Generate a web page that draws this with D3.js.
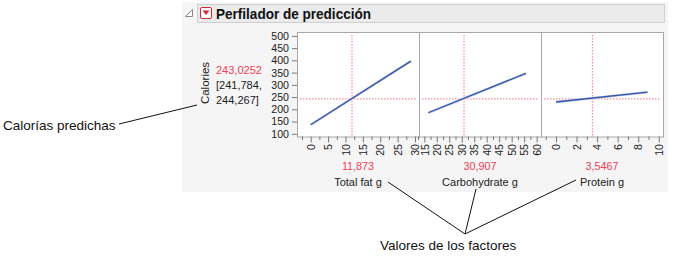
<!DOCTYPE html>
<html><head><meta charset="utf-8">
<script src="https://cdn.jsdelivr.net/npm/d3@7"></script>
<style>body{margin:0;background:#fff}svg{display:block;font-family:"Liberation Sans",Arial,sans-serif}</style>
</head><body><svg id="c" width="675" height="260"></svg>
<script>
const title = "Perfilador de predicción";
const responseName = "Calories";
const predicted = "243,0252";
const predictedValue = 243.0252;
const ciLabels = ["[241,784,", "244,267]"];
const factors = ["Total fat g", "Carbohydrate g", "Protein g"];
const factorLabels = ["11,873", "30,907", "3,5467"];
const factorCurrent = [11.873, 30.907, 3.5467];
const xDomains = [[-3.94, 31.15], [12.88, 61.74], [-1.46, 10.41]];
const xTicks = [[0,5,10,15,20,25,30],[15,20,25,30,35,40,45,50,55,60],[0,2,4,6,8,10]];
const xMinor = [[-2.5,2.5,7.5,12.5,17.5,22.5,27.5],[12.5,17.5,22.5,27.5,32.5,37.5,42.5,47.5,52.5,57.5],[-1,1,3,5,7,9]];
const profileX = [[0, 28.8], [16.6, 55.7], [0, 8.9]];
const profileY = [[137, 397], [186, 347], [230, 270]];
const yDomain = [89, 516];
const yTicks = [100,150,200,250,300,350,400,450,500];
const annoLeft = "Calorías predichas";
const annoBottom = "Valores de los factores";

const svg = d3.select("#c");
const red = "#ee4058", dash = "#f58f9c", blue = "#3553a6";

// panel background
svg.append("rect").attr("x",182).attr("y",2).attr("width",486).attr("height",190).attr("fill","#f5f5f5");
// header
svg.append("rect").attr("x",197.5).attr("y",4.5).attr("width",467).attr("height",18).attr("fill","#ebebeb").attr("stroke","#cfcfcf");
svg.append("path").attr("d","M192.5,9.5 L192.5,16.5 L185.5,16.5 Z").attr("fill","#fff").attr("stroke","#8a8a8a");
svg.append("rect").attr("x",200.5).attr("y",7.5).attr("width",11).attr("height",11).attr("rx",1.5).attr("fill","#fff").attr("stroke","#d8262e");
svg.append("path").attr("d","M202.5,10.5 L209.5,10.5 L206,15 Z").attr("fill","#d8262e");
svg.append("text").attr("x",216).attr("y",18.5).attr("font-size",14).attr("font-weight","bold").attr("fill","#111")
  .attr("textLength",155).attr("lengthAdjust","spacingAndGlyphs").text(title);

// scales
const band = d3.scaleBand().domain(factors).range([297, 663]).padding(0);
const y = d3.scaleLinear().domain(yDomain).range([136.5, 32]);
const plotTop = 32, plotBottom = 136.5;

// y axis
const ya = svg.append("g").attr("transform","translate(297,0)")
  .call(d3.axisLeft(y).tickValues(yTicks).tickSize(5).tickPadding(3));
ya.select(".domain").remove();
ya.selectAll("line").attr("stroke","#777");
ya.selectAll("text").attr("font-size",10.6).attr("fill","#222").attr("font-family","Liberation Sans, Arial");

// response label
svg.append("text").attr("transform","translate(208.5,83) rotate(-90)").attr("text-anchor","middle")
  .attr("font-size",11.5).attr("fill","#222").text(responseName);
svg.append("text").attr("x",216).attr("y",74).attr("font-size",11).attr("fill",red).text(predicted);
ciLabels.forEach((t,i)=>svg.append("text").attr("x",216).attr("y",89+15*i).attr("font-size",11).attr("fill","#222").text(t));

factors.forEach((f,i)=>{
  const x0 = band(f), w = band.bandwidth();
  const x = d3.scaleLinear().domain(xDomains[i]).range([x0, x0+w]);
  const g = svg.append("g");
  g.append("rect").attr("x",x0+0.5).attr("y",plotTop+0.5).attr("width",w).attr("height",plotBottom-plotTop).attr("fill","#fff").attr("stroke","#a8a8a8");
  // dashed reference lines
  g.append("line").attr("x1",x(factorCurrent[i])).attr("x2",x(factorCurrent[i])).attr("y1",plotTop+3).attr("y2",plotBottom)
    .attr("stroke",dash).attr("stroke-width",1.2).attr("stroke-dasharray","1.5,1.5");
  g.append("line").attr("x1",x0+3).attr("x2",x0+w-3).attr("y1",y(predictedValue)).attr("y2",y(predictedValue))
    .attr("stroke",dash).attr("stroke-width",1.2).attr("stroke-dasharray","1.5,1.5");
  // profile line
  const pts = profileX[i].map((v,j)=>[x(v), y(profileY[i][j])]);
  g.append("path").attr("d",d3.line()(pts)).attr("stroke","#c3cfec").attr("stroke-width",2.6).attr("fill","none");
  g.append("path").attr("d",d3.line()(pts)).attr("stroke",blue).attr("stroke-width",1.3).attr("fill","none");
  // x axis
  const xm = svg.append("g").attr("transform",`translate(0,${plotBottom})`)
    .call(d3.axisBottom(x).tickValues(xMinor[i]).tickSize(3.5).tickFormat(""));
  xm.select(".domain").remove(); xm.selectAll("line").attr("stroke","#777");
  const xa = svg.append("g").attr("transform",`translate(0,${plotBottom})`)
    .call(d3.axisBottom(x).tickValues(xTicks[i]).tickSize(6).tickFormat(d3.format("d")));
  xa.select(".domain").remove(); xa.selectAll("line").attr("stroke","#777");
  xa.selectAll("text").attr("font-size",10.6).attr("fill","#222").attr("font-family","Liberation Sans, Arial")
    .attr("text-anchor","end").attr("transform","rotate(-90)").attr("x",-7.5).attr("y",0).attr("dy","0.35em");
  // labels
  svg.append("text").attr("x",x0+w/2).attr("y",170).attr("text-anchor","middle").attr("font-size",10.8).attr("fill",red).text(factorLabels[i]);
  svg.append("text").attr("x",x0+w/2).attr("y",185.5).attr("text-anchor","middle").attr("font-size",11).attr("fill","#222").text(f);
});

// annotations
svg.append("text").attr("x",3).attr("y",130).attr("font-size",13.5).attr("fill","#111").text(annoLeft);
svg.append("line").attr("x1",119).attr("y1",124).attr("x2",197).attr("y2",105).attr("stroke","#111");
svg.append("text").attr("x",380).attr("y",250).attr("font-size",13.5).attr("fill","#111").text(annoBottom);
[[388,182],[476,189],[576,180]].forEach(p=>svg.append("line").attr("x1",465).attr("y1",234).attr("x2",p[0]).attr("y2",p[1]).attr("stroke","#111"));
</script></body></html>
